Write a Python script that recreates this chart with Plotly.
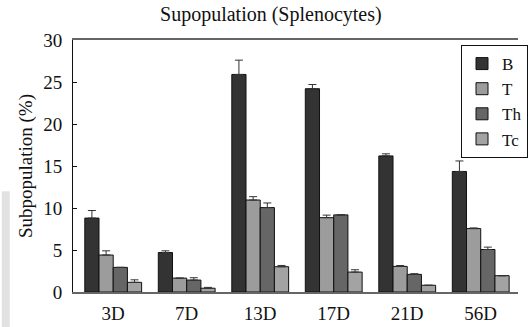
import plotly.graph_objects as go

days = ["3D", "7D", "13D", "17D", "21D", "56D"]
B = [8.8, 4.7, 25.9, 24.2, 16.2, 14.35]
B_err = [0.9, 0.2, 1.7, 0.5, 0.25, 1.25]
T = [4.4, 1.65, 10.95, 8.85, 3.05, 7.55]
T_err = [0.5, 0.0, 0.4, 0.3, 0.1, 0.08]
Th = [2.93, 1.42, 10.05, 9.18, 2.1, 5.06]
Th_err = [0.0, 0.28, 0.55, 0.0, 0.08, 0.28]
Tc = [1.15, 0.45, 3.01, 2.37, 0.8, 1.94]
Tc_err = [0.3, 0.1, 0.15, 0.28, 0.0, 0.0]

series = [
    ("B", B, B_err, "#333333"),
    ("T", T, T_err, "#9c9c9c"),
    ("Th", Th, Th_err, "#666666"),
    ("Tc", Tc, Tc_err, "#a3a3a3"),
]

FONT = "Liberation Serif, Times New Roman, serif"

fig = go.Figure()
for name, vals, errs, col in series:
    fig.add_trace(go.Bar(
        name=name, x=days, y=vals,
        marker=dict(color=col, line=dict(color="#111111", width=1)),
        error_y=dict(type="data", array=errs, arrayminus=[0]*len(errs),
                     symmetric=False, color="#333333", thickness=1, width=4),
    ))

fig.update_layout(
    width=528, height=327,
    margin=dict(l=73, r=0, t=40, b=35),
    paper_bgcolor="white", plot_bgcolor="white",
    barmode="group", bargap=0.227, bargroupgap=0,
    font=dict(family=FONT, size=19, color="#111111"),
    title=dict(text="Supopulation (Splenocytes)", x=0.513, xanchor="center",
               y=0.957, yanchor="middle", font=dict(family=FONT, size=20, color="#111111")),
    legend=dict(x=0.872, y=0.98, xanchor="left", yanchor="top",
                bgcolor="white", bordercolor="#111111", borderwidth=1,
                font=dict(family=FONT, size=17, color="#111111"),
                itemwidth=30, tracegroupgap=0),
    showlegend=True,
    shapes=[dict(type="rect", xref="paper", yref="paper", x0=-0.16, x1=-0.142,
                 y0=-0.14, y1=0.40, fillcolor="#e2e2e2", line=dict(width=0), layer="below")],
    annotations=[dict(text="Subpopulation (%)", xref="paper", yref="paper",
                      x=-0.1055, y=0.5, xanchor="center", yanchor="middle",
                      textangle=-90, showarrow=False, font=dict(family=FONT, size=19, color="#111111"))],
)
fig.update_xaxes(
    range=[-0.547, 5.507], showline=True, linecolor="#666666", linewidth=1.5,
    mirror=True, ticks="", showgrid=False, tickfont=dict(size=19), automargin=False,
    ticklabelstandoff=3,
)
fig.update_yaxes(
    range=[0, 30], tickvals=[0, 5, 10, 15, 20, 25, 30], showline=True,
    linecolor="#111111", linewidth=1, ticks="inside", ticklen=4, tickcolor="#111111",
    showgrid=False, zeroline=False, tickfont=dict(size=19), automargin=False,
    ticklabelstandoff=6,
)
fig.write_html("out.html", config={"displayModeBar": False},
               post_script="document.body.style.margin='0';document.body.style.padding='0';")
